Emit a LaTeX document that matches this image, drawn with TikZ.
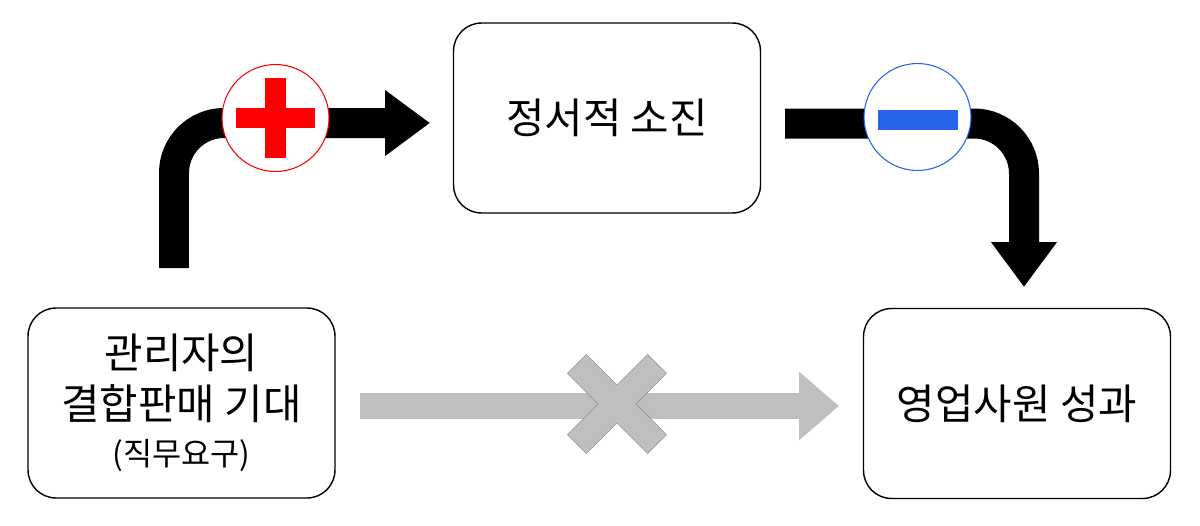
\documentclass[tikz,border=0pt]{standalone}
\usepackage{fontspec}
\usepackage{xcolor}
\usepackage{tikz}
\usetikzlibrary{arrows.meta}
\newfontfamily\kr{Noto Sans CJK KR}
\definecolor{plusred}{HTML}{FF0000}
\definecolor{minusblue}{HTML}{2563E8}
\definecolor{nogray}{HTML}{BFBFBF}
\definecolor{nograyline}{HTML}{7F7F7F}
\tikzstyle{box} = [draw, line width=0.8pt, rounded corners=0.56cm,
    minimum width=6.14cm, minimum height=3.8cm, align=center,
    font=\kr\fontsize{23.8}{29}\selectfont]
\tikzstyle{bigarrow} = [line width=0.6cm, rounded corners=1cm,
    -{Triangle[length=0.9cm,width=1.26cm]}]
\tikzstyle{grayarrow} = [nogray, line width=0.52cm,
    -{Triangle[length=0.8cm,width=1.32cm]}]
\tikzstyle{sign} = [circle, draw, fill=white, line width=0.6pt,
    minimum size=2.14cm, inner sep=0pt]
\tikzstyle{bar} = [rectangle, inner sep=0pt, minimum width=1.6cm,
    minimum height=0.41cm]
\tikzstyle{xbar} = [rectangle, inner sep=0pt, minimum width=2.26cm,
    minimum height=0.52cm]

\begin{document}
\begin{tikzpicture}[x=0.02cm,y=-0.02cm]
  \useasboundingbox (0,0) rectangle (1200,525);

  \node[box] (burnout) at (607,118) {정서적 소진};
  \node[box] (mgr) at (181.5,403) {관리자의\\결합판매 기대\\[-3pt]{\fontsize{18}{22}\selectfont (직무요구)}};
  \node[box] (sales) at (1017,403.5) {영업사원 성과};

  \coordinate (mgr out) at (174,268);
  \coordinate (burnout in) at (430,123);
  \coordinate (burnout out) at (785,123.5);
  \coordinate (sales in) at (1024,287);
  \coordinate (nolink out) at (360,406);
  \coordinate (nolink in) at (839,406);

  % 양(+) 경로
  \draw[bigarrow] (mgr out) |- (burnout in);
  \node[sign, draw=plusred] (plus) at (275.5,118) {};
  \node[bar, fill=plusred] (plus h) at (plus) {};
  \node[bar, fill=plusred, rotate=90] (plus v) at (plus) {};

  % 음(-) 경로
  \draw[bigarrow] (burnout out) -| (sales in);
  \node[sign, draw=minusblue] (minus) at (917.5,117) {};
  \node[bar, fill=minusblue] (minus h) at (918,120) {};

  % 직접 효과 없음
  \draw[grayarrow] (nolink out) -- (nolink in);
  \node[xbar, draw=nograyline, line width=0.6pt, rotate=45] at (617,404) {};
  \node[xbar, draw=nograyline, line width=0.6pt, rotate=-45] at (617,404) {};
  \node[xbar, fill=nogray, rotate=45] (cross a) at (617,404) {};
  \node[xbar, fill=nogray, rotate=-45] (cross b) at (617,404) {};
\end{tikzpicture}
\end{document}
